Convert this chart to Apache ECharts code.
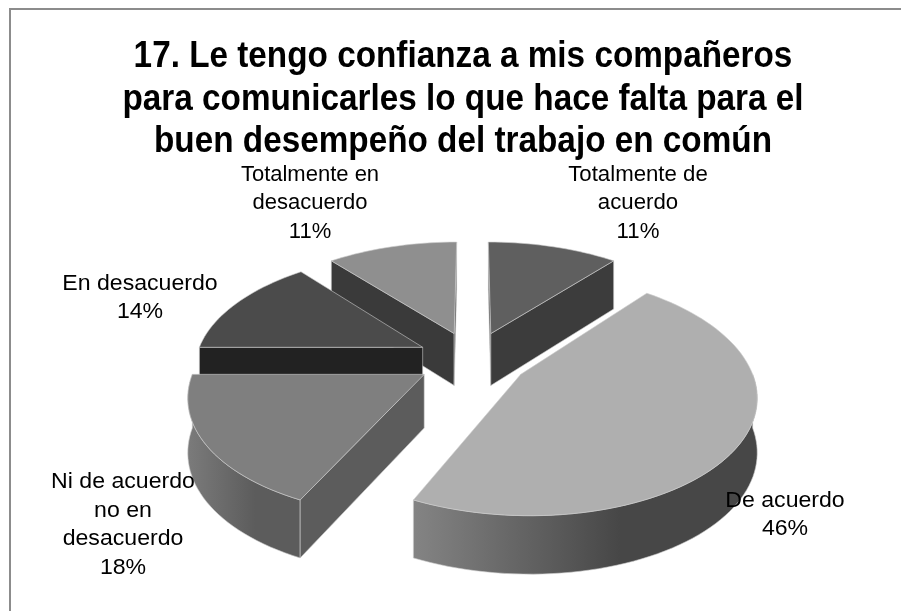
<!DOCTYPE html>
<html>
<head>
<meta charset="utf-8">
<style>
  html, body { margin: 0; padding: 0; background: #fff; }
  #main { width: 901px; height: 611px; }
</style>
<script src="https://cdn.jsdelivr.net/npm/echarts@6/dist/echarts.min.js"></script>
</head>
<body>
<div id="main"></div>
<script>
var chartTitle = "17. Le tengo confianza a mis compañeros\npara comunicarles lo que hace falta para el\nbuen desempeño del trabajo en común";
var categories = ["Totalmente de\nacuerdo", "De acuerdo", "Ni de acuerdo\nno en\ndesacuerdo", "En desacuerdo", "Totalmente en\ndesacuerdo"];
var values = [11, 46, 18, 14, 11];

// colours per slice: top, side facing the viewer, rim gradient
var topColors = ["#5f5f5f", "#afafaf", "#7f7f7f", "#4b4b4b", "#8f8f8f"];
var faceColors = ["#3c3c3c", "#555555", "#5c5c5c", "#222222", "#3a3a3a"];
var rimColors = [
  ["#555555", "#555555"],
  ["#848484", "#474747"],
  ["#7b7b7b", "#5c5c5c"],
  ["#222222", "#222222"],
  ["#555555", "#555555"]
];
var labelAnchors = [[638, 203], [785, 515], [123, 525], [140, 298], [310, 203]];
var labelStretch = [1.01, 1.05, 1.05, 1.05, 1];
// back slices first so the front ones cover them
var drawOrder = [0, 4, 3, 2, 1];

// fake 3d camera, fitted by eye to the picture
var cx = 472.5, cy = 359;
var radius = 227, explode = 56, tilt = 0.5, persp = 0.0007, height = 53;

function project(x, y, z) {
  var d = 1 - persp * y;
  return [cx + x / d, cy + tilt * y / d + z * height * (1 + 0.0004 * y)];
}

function polar(deg, r, ox, oy) {
  var a = deg * Math.PI / 180;
  return [ox + r * Math.sin(a), oy - r * Math.cos(a)];
}

var total = values.reduce(function (s, v) { return s + v; }, 0);
var starts = [];
values.reduce(function (s, v, i) {
  starts[i] = s;
  return s + v;
}, 0);

function renderSlice(params, api) {
  var i = api.value(0);
  var from = echarts.number.linearMap(starts[i], [0, total], [0, 360]);
  var to = echarts.number.linearMap(starts[i] + api.value(1), [0, total], [0, 360]);
  var off = polar((from + to) / 2, explode, 0, 0);
  var kids = [];

  function edge(deg, z) {
    var p = polar(deg, radius, off[0], off[1]);
    return project(p[0], p[1], z);
  }
  function apex(z) {
    return project(off[0], off[1], z);
  }
  function arc(a, b, z) {
    var pts = [];
    var n = Math.max(2, Math.ceil(Math.abs(b - a) / 2));
    for (var k = 0; k <= n; k++) {
      pts.push(edge(a + (b - a) * k / n, z));
    }
    return pts;
  }
  function poly(points, fill) {
    kids.push({
      type: "polygon",
      shape: { points: points },
      style: { fill: fill, stroke: "rgba(205,205,205,0.75)", lineWidth: 0.8 }
    });
  }

  // rim, only the part turned to the viewer
  var r0 = Math.max(from, 90), r1 = Math.min(to, 270);
  if (r1 > r0) {
    var rim = arc(r0, r1, 0).concat(arc(r1, r0, 1));
    poly(rim, {
      type: "linear", x: 0, y: 0, x2: 1, y2: 0,
      colorStops: [
        { offset: 0, color: rimColors[i][0] },
        { offset: 0.6, color: rimColors[i][1] },
        { offset: 1, color: rimColors[i][1] }
      ]
    });
  }
  // cut faces
  if (-Math.sin(from * Math.PI / 180) >= -1e-6) {
    poly([apex(0), edge(from, 0), edge(from, 1), apex(1)], faceColors[i]);
  }
  if (Math.sin(to * Math.PI / 180) >= -1e-6) {
    poly([apex(0), edge(to, 0), edge(to, 1), apex(1)], faceColors[i]);
  }
  // top
  poly([apex(0)].concat(arc(from, to, 0)), topColors[i]);
  return { type: "group", children: kids };
}

function renderLabel(params, api) {
  var i = api.value(0);
  return {
    type: "text",
    x: labelAnchors[i][0],
    y: labelAnchors[i][1],
    scaleX: labelStretch[i],
    style: {
      text: categories[i] + "\n" + api.value(1) + "%",
      fill: "#000",
      font: '22px "Liberation Sans"',
      lineHeight: 28.5,
      align: "center",
      verticalAlign: "middle"
    }
  };
}

var chart = echarts.init(document.getElementById("main"), null, { renderer: "canvas" });
var sliceData = drawOrder.map(function (i) { return [i, values[i]]; });
chart.setOption({
  animation: false,
  backgroundColor: "#fff",
  graphic: [
    {
      type: "group",
      silent: true,
      children: [
        { type: "line", shape: { x1: 9, y1: 9, x2: 901, y2: 9 }, style: { stroke: "#8c8c8c", lineWidth: 2 } },
        { type: "line", shape: { x1: 10, y1: 8, x2: 10, y2: 611 }, style: { stroke: "#8c8c8c", lineWidth: 2 } }
      ]
    },
    {
      type: "text",
      x: 463,
      y: 100,
      scaleX: 0.925,
      silent: true,
      style: {
        text: chartTitle,
        fill: "#000",
        font: 'bold 36px "Liberation Sans"',
        lineHeight: 42.5,
        align: "center",
        verticalAlign: "middle"
      }
    }
  ],
  series: [
    { type: "custom", coordinateSystem: "none", renderItem: renderSlice, data: sliceData, silent: true },
    { type: "custom", coordinateSystem: "none", renderItem: renderLabel, data: sliceData, silent: true, z: 5 }
  ]
});
</script>
</body>
</html>
